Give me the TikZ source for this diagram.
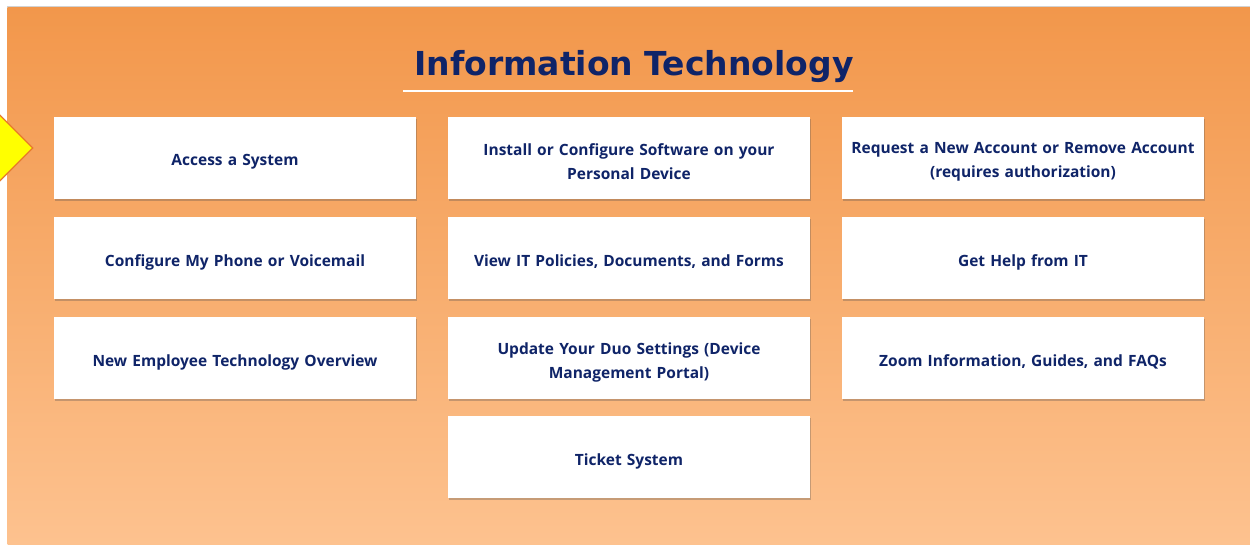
\documentclass[tikz,border=0pt]{standalone}
\usepackage{fontspec}
\setmainfont{Open Sans}
\newfontfamily\titlefont{DejaVu Sans}
\usepackage{tikz}
\usetikzlibrary{positioning,calc,shapes.geometric,shadows}

\definecolor{itnavy}{HTML}{0F2468}
\definecolor{ittop}{HTML}{F2974B}
\definecolor{itbottom}{HTML}{FDC28F}
\definecolor{ityellow}{HTML}{FFFF00}
\definecolor{itborder}{HTML}{E8792B}

\begin{document}
\begin{tikzpicture}[x=1pt, y=-1pt,
  tile/.style={rectangle, fill=white, minimum width=362pt, minimum height=82pt, inner sep=0pt,
    drop shadow={shadow xshift=1pt, shadow yshift=-1.5pt, opacity=0.3, fill=black!70}},
  tiletext/.style={text width=355pt, align=center, inner sep=0pt, yshift=-4pt,
    font=\fontsize{15.5pt}{24pt}\selectfont\bfseries, text=itnavy}]
% page and background
\useasboundingbox (0,0) rectangle (1250,544);
\fill[white] (0,0) rectangle (1250,544);
\draw[gray!35, line width=1pt] (7,544) -- (7,6.5) -- (1250,6.5);
\shade[top color=ittop, bottom color=itbottom] (7.5,7) rectangle (1250,544);

% marker
\node[diamond, draw=itborder, line width=1.2pt, fill=ityellow, minimum width=70pt, minimum height=70pt, inner sep=0pt, name=marker] at (-2,148) {};

% title
\node[font=\titlefont\fontsize{33pt}{36pt}\selectfont\bfseries, text=itnavy, anchor=base, name=title] at (634,75) {Information Technology};
\coordinate (rule_l) at (403,91);
\coordinate (rule_r) at (853,91);
\draw[white, line width=2pt] (rule_l) -- (rule_r);

% tiles, first row
\node[tile, name=access, label={[tiletext]center:Access a System}] at (235,158) {};
\node[tile, name=install, label={[tiletext]center:Install or Configure Software on your\\ Personal Device}] at (629,158) {};
\node[tile, name=account, label={[tiletext]center:Request a New Account or Remove Account\\ (requires authorization)}] at (1023,158) {};

% second row
\node[tile, name=phone, label={[tiletext]center:Configure My Phone or Voicemail}] at (235,258) {};
\node[tile, name=policies, label={[tiletext]center:View IT Policies, Documents, and Forms}] at (629,258) {};
\node[tile, name=help, label={[tiletext]center:Get Help from IT}] at (1023,258) {};

% third row
\node[tile, name=newemp, label={[tiletext]center:New Employee Technology Overview}] at (235,358) {};
\node[tile, name=duo, label={[tiletext]center:Update Your Duo Settings (Device\\ Management Portal)}] at (629,358) {};
\node[tile, name=zoom, label={[tiletext]center:Zoom Information, Guides, and FAQs}] at (1023,358) {};

% last row
\node[tile, name=ticket, label={[tiletext]center:Ticket System}] at (629,457) {};
\end{tikzpicture}
\end{document}
